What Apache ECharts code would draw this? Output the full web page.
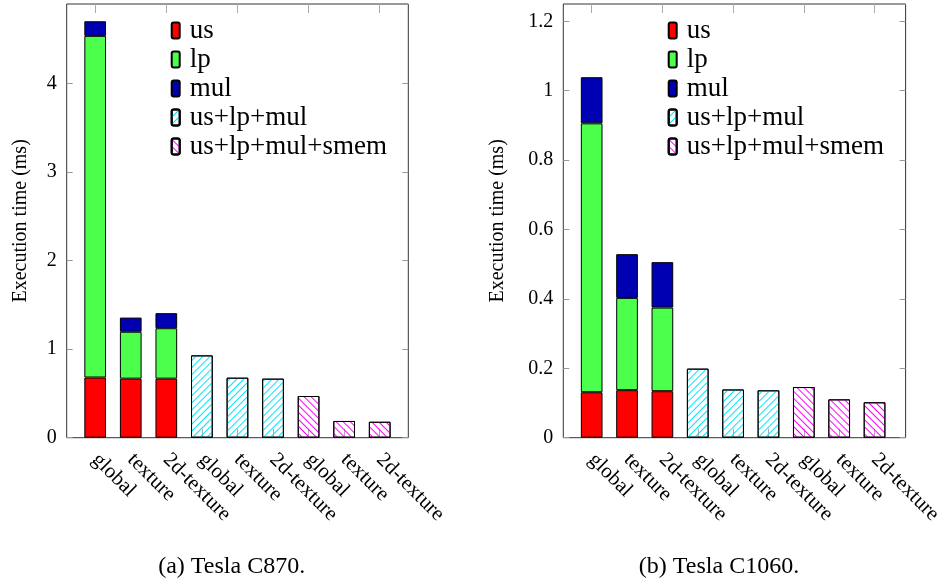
<!DOCTYPE html>
<html>
<head>
<meta charset="utf-8">
<script src="https://cdn.jsdelivr.net/npm/echarts@6/dist/echarts.min.js"></script>
<style>
html,body{margin:0;padding:0;background:#fff;}
#c{width:945px;height:580px;}
</style>
</head>
<body>
<div id="c"></div>
<script>
// ---- data ----
const categories = ['global','texture','2d-texture','global','texture','2d-texture','global','texture','2d-texture'];
const seriesNames = ['us','lp','mul','us+lp+mul','us+lp+mul+smem'];
// Tesla C870 (ms)
const us870    = [0.68, 0.667, 0.667, null, null, null, null, null, null];
const lp870    = [3.86, 0.53, 0.57, null, null, null, null, null, null];
const mul870   = [0.165, 0.16, 0.17, null, null, null, null, null, null];
const fused870 = [null, null, null, 0.93, 0.678, 0.667, null, null, null];
const smem870  = [null, null, null, null, null, null, 0.471, 0.189, 0.18];
// Tesla C1060 (ms)
const us1060    = [0.131, 0.137, 0.134, null, null, null, null, null, null];
const lp1060    = [0.775, 0.266, 0.241, null, null, null, null, null, null];
const mul1060   = [0.133, 0.126, 0.131, null, null, null, null, null, null];
const fused1060 = [null, null, null, 0.199, 0.139, 0.1365, null, null, null];
const smem1060  = [null, null, null, null, null, null, 0.146, 0.1105, 0.102];
const captions = ['(a) Tesla C870.', '(b) Tesla C1060.'];
const yName = 'Execution time (ms)';

// ---- style ----
const SERIF = 'Liberation Serif';
const colors = ['#ff0000', '#4dff4d', '#0000b3'];
const decalFused = {symbol:'rect', symbolSize:1, color:'#00e5ff', backgroundColor:null,
  dashArrayX:[1,0], dashArrayY:[1,4], rotation:-Math.PI/4};
const decalSmem = {symbol:'rect', symbolSize:1, color:'#ff00ff', backgroundColor:null,
  dashArrayX:[1,0], dashArrayY:[1,4], rotation:Math.PI/4};

function fmt(step){
  return function(v){
    const k = v/step;
    if (Math.abs(k - Math.round(k)) > 1e-6) return '';
    return String(+(v).toFixed(2));
  };
}

const panels = [
  {frameLeft:66.7, frameW:341.6, barsLeft:77.4, barsW:320.1, max:4.9, step:1, nameGap:36,
   data:[us870, lp870, mul870, fused870, smem870], legendLeft:165.7, cap:226.7},
  {frameLeft:563.3, frameW:342.3, barsLeft:574, barsW:320.3, max:1.25, step:0.2, nameGap:56,
   data:[us1060, lp1060, mul1060, fused1060, smem1060], legendLeft:662.7, cap:714}
];
const TOP = 4, H = 433.7;

const grid = [], xAxis = [], yAxis = [], series = [], legend = [], title = [];
panels.forEach((p, pi) => {
  const gF = grid.length;
  grid.push({left:p.frameLeft, top:TOP, width:p.frameW, height:H, show:true,
    borderColor:'#333', borderWidth:1, backgroundColor:'transparent'});
  const gB = grid.length;
  grid.push({left:p.barsLeft, top:TOP, width:p.barsW, height:H});
  // frame axes
  xAxis.push({gridIndex:gF, type:'value', min:0, max:1, show:false});
  yAxis.push({gridIndex:gF, type:'value', position:'left', min:0, max:p.max, interval:p.step,
    name:yName, nameLocation:'middle', nameGap:p.nameGap,
    nameTextStyle:{fontFamily:SERIF, fontSize:20, color:'#000'},
    axisLine:{show:false}, splitLine:{show:false},
    axisTick:{show:true, inside:true, length:6, lineStyle:{color:'#999'}},
    axisLabel:{margin:10, fontFamily:SERIF, fontSize:20, color:'#000', formatter:fmt(p.step),
      showMaxLabel:false}});
  yAxis.push({gridIndex:gF, type:'value', position:'right', min:0, max:p.max, interval:p.step,
    axisLine:{show:false}, splitLine:{show:false}, axisLabel:{show:false},
    axisTick:{show:true, inside:true, length:6, lineStyle:{color:'#999'}}});
  // bars axes
  const xB = xAxis.length;
  xAxis.push({gridIndex:gB, type:'category', data:categories, position:'bottom', boundaryGap:true,
    axisLine:{show:false},
    axisTick:{show:true, inside:true, alignWithLabel:true, length:9, lineStyle:{color:'#aaa'}},
    axisLabel:{rotate:-45, margin:19, fontFamily:SERIF, fontSize:21, color:'#000', interval:0}});
  xAxis.push({gridIndex:gB, type:'category', data:categories, position:'top', boundaryGap:true,
    axisLine:{show:false}, axisLabel:{show:false},
    axisTick:{show:true, inside:true, alignWithLabel:true, length:9, lineStyle:{color:'#aaa'}}});
  const yB = yAxis.length;
  yAxis.push({gridIndex:gB, type:'value', min:0, max:p.max, show:false, splitLine:{show:false}});

  seriesNames.forEach((nm, si) => {
    const s = {name:nm, type:'bar', xAxisIndex:xB, yAxisIndex:yB, stack:'s'+pi,
      data:p.data[si], barWidth:21.7,
      itemStyle:{borderColor:'#000', borderWidth:1}};
    if (si < 3) s.itemStyle.color = colors[si];
    else {
      s.itemStyle.color = 'rgba(255,255,255,0)';
      s.itemStyle.decal = si === 3 ? decalFused : decalSmem;
    }
    series.push(s);
  });

  legend.push({orient:'vertical', left:p.legendLeft, top:12, data:seriesNames, selectedMode:false,
    itemWidth:8, itemHeight:16, itemGap:2,
    textStyle:{fontFamily:SERIF, fontSize:27, lineHeight:26, color:'#000', padding:[0,0,0,5]}});
  title.push({text:captions[pi], left:p.cap, top:550, textAlign:'center',
    textStyle:{fontFamily:SERIF, fontSize:24, fontWeight:'normal', color:'#000'}});
});

const chart = echarts.init(document.getElementById('c'), null, {renderer:'canvas'});
chart.setOption({animation:false, backgroundColor:'#fff',
  textStyle:{fontFamily:SERIF},
  grid, xAxis, yAxis, series, legend, title});
</script>
</body>
</html>
